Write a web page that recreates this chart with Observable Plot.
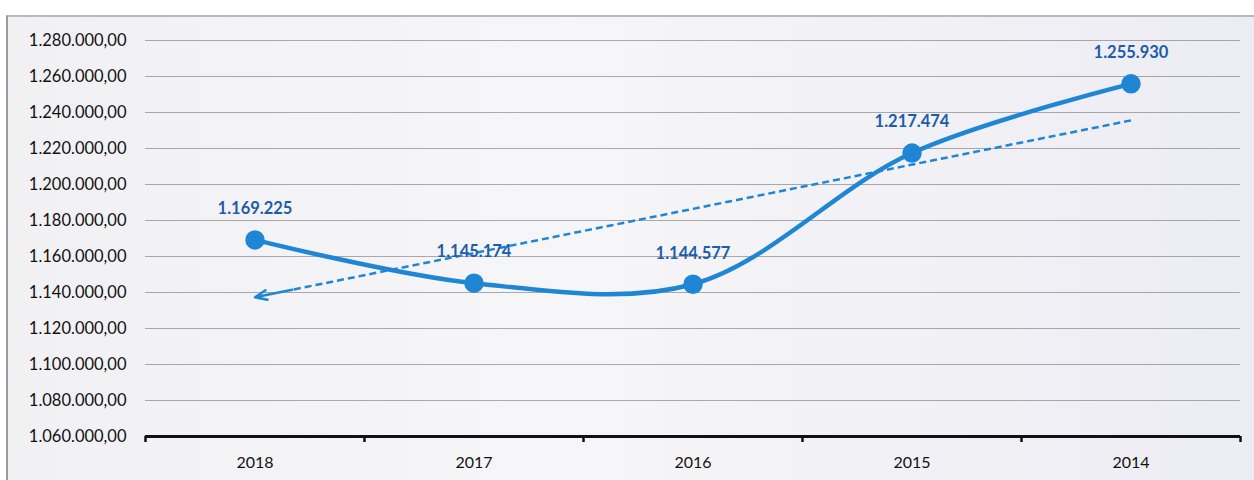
<!DOCTYPE html>
<html>
<head>
<meta charset="utf-8">
<script src="https://cdn.jsdelivr.net/npm/d3@7"></script>
<script src="https://cdn.jsdelivr.net/npm/@observablehq/plot@0.6"></script>
<style>
  html, body { margin: 0; padding: 0; background: #ffffff; }
  #wrap { position: relative; width: 1254px; height: 480px; }
  #frame { position: absolute; left: 6px; top: 15px; right: 0; bottom: 0;
           background: linear-gradient(90deg, #f1f1f4 0%, #f6f6f8 45%, #ececf3 100%);
           border-left: 2px solid #9a9aa0; border-top: 2px solid #b8b8bd; }
  #chart { position: absolute; left: 0; top: 0; }
  #chart svg { display: block; }
</style>
</head>
<body>
<div id="wrap"><div id="frame"></div><div id="chart"></div></div>
<script>
const years = ["2018", "2017", "2016", "2015", "2014"];
const values = [1169225, 1145174, 1144577, 1217474, 1255930];
const yTicks = [1060000, 1080000, 1100000, 1120000, 1140000, 1160000, 1180000, 1200000, 1220000, 1240000, 1260000, 1280000];

const locale = d3.formatLocale({decimal: ",", thousands: ".", grouping: [3], currency: ["", ""]});
const fmtAxis = locale.format(",.2f");
const fmtLabel = locale.format(",.0f");

const data = years.map((year, i) => ({i, year, value: values[i]}));

// linear trend line (least squares) over index
const n = data.length;
const mx = d3.mean(data, d => d.i), my = d3.mean(data, d => d.value);
const slope = d3.sum(data, d => (d.i - mx) * (d.value - my)) / d3.sum(data, d => (d.i - mx) ** 2);
const trendAt = x => my + slope * (x - mx);
const headStart = 0.17;
const trendLine = [{x1: n - 1, y1: trendAt(n - 1), x2: headStart, y2: trendAt(headStart)}];
const trendHead = [{x1: headStart, y1: trendAt(headStart), x2: 0, y2: trendAt(0)}];

const boundaries = d3.range(-0.5, n, 1);
const blue = "#1f86d6";
const labelBlue = "#1c5cab";
const font = "Lato, 'Open Sans', sans-serif";

const chart = Plot.plot({
  width: 1254,
  height: 480,
  marginTop: 40,
  marginBottom: 44,
  marginLeft: 145,
  marginRight: 14,
  style: {background: "transparent", fontFamily: font, fontSize: "16px", color: "#111"},
  x: {type: "linear", domain: [-0.5, n - 0.5]},
  y: {domain: [1060000, 1280000]},
  marks: [
    Plot.gridY(yTicks.slice(1), {stroke: "#6a6a70", strokeOpacity: 0.55, strokeWidth: 1}),
    Plot.axisY({ticks: yTicks, tickSize: 0, tickPadding: 19, tickFormat: fmtAxis, label: null, fontSize: 16.5, fill: "#111"}),
    Plot.ruleY([1060000], {stroke: "#111", strokeWidth: 3}),
    Plot.axisX({ticks: boundaries, tickSize: 6, tickFormat: () => "", label: null, stroke: "#111", strokeWidth: 2.5}),
    Plot.axisX({ticks: d3.range(n), tickSize: 0, tickPadding: 20, tickFormat: i => years[i], label: null, fontSize: 16, fill: "#111"}),
    Plot.link(trendLine, {x1: "x1", y1: "y1", x2: "x2", y2: "y2", stroke: blue, strokeWidth: 2.5, strokeDasharray: "7,4"}),
    Plot.arrow(trendHead, {x1: "x1", y1: "y1", x2: "x2", y2: "y2", stroke: blue, strokeWidth: 2.5, headLength: 8, headAngle: 45}),
    Plot.line(data, {x: "i", y: "value", stroke: blue, strokeWidth: 4.5, curve: "catmull-rom"}),
    Plot.dot(data, {x: "i", y: "value", r: 9, fill: blue, stroke: blue}),
    Plot.text(data, {x: "i", y: "value", text: d => fmtLabel(d.value), dy: -31, fill: labelBlue, fontWeight: "bold", fontSize: 16.5})
  ]
});

document.getElementById("chart").append(chart);
</script>
</body>
</html>
